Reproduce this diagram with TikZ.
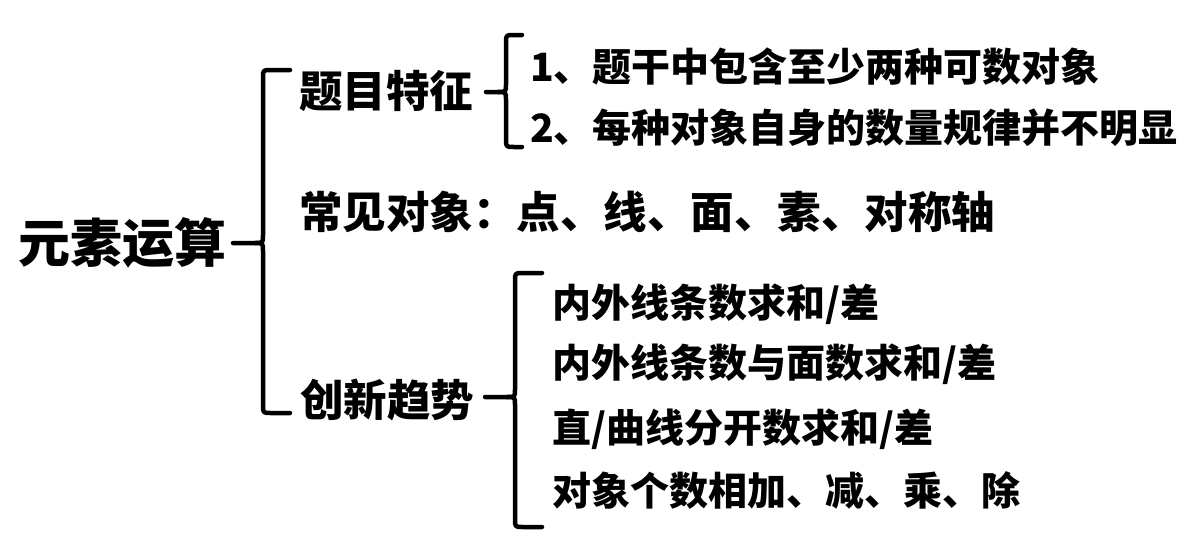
\documentclass[tikz,border=0pt]{standalone}
\usepackage{fontspec}
\setmainfont{Noto Sans CJK SC}[UprightFont={* Black}]
\tikzset{
  txt/.style={anchor=west,inner sep=0pt,text=black},
  rootf/.style={txt,font=\fontsize{52}{56}\selectfont},
  headf/.style={txt,font=\fontsize{43.5}{48}\selectfont},
  itemf/.style={txt,font=\fontsize{39}{44}\selectfont},
  bracel/.style={draw=black,line width=4.5pt,line cap=round,line join=round}
}
\newcommand\mybrace[6]{% tipx, vx, top, mid, bot, endx
  \draw[bracel] (#6,#3) -- (#2+8,#3) .. controls (#2,#3) .. (#2,#3+8)
    -- (#2,#4-8) .. controls (#2,#4) .. (#2-8,#4) -- (#1,#4);
  \draw[bracel] (#6,#5) -- (#2+8,#5) .. controls (#2,#5) .. (#2,#5-8)
    -- (#2,#4+8) .. controls (#2,#4) .. (#2-8,#4);
}
\begin{document}
\begin{tikzpicture}[x=1pt,y=-1pt]
\useasboundingbox (0,0) rectangle (1200,546);
\fill[white] (0,0) rectangle (1200,546);
\node[rootf] (root) at (18,243) {元素运算};
\node[headf] (h1) at (299,91) {题目特征};
\node[headf] (h2) at (299,212) {常见对象：点、线、面、素、对称轴};
\node[headf] (h3) at (300,400) {创新趋势};
\node[itemf] (a1) at (530,67) {1、题干中包含至少两种可数对象};
\node[itemf] (a2) at (530,128) {2、每种对象自身的数量规律并不明显};
\node[itemf] (b1) at (552,304) {内外线条数求和/差};
\node[itemf] (b2) at (552,364) {内外线条数与面数求和/差};
\node[itemf] (b3) at (552,429) {直/曲线分开数求和/差};
\node[itemf] (b4) at (552,490) {对象个数相加、减、乘、除};
\mybrace{233}{263}{70}{243}{413}{290}
\mybrace{486}{506}{35}{92}{147}{522}
\mybrace{485}{515}{273}{397}{527}{542}
\end{tikzpicture}
\end{document}
